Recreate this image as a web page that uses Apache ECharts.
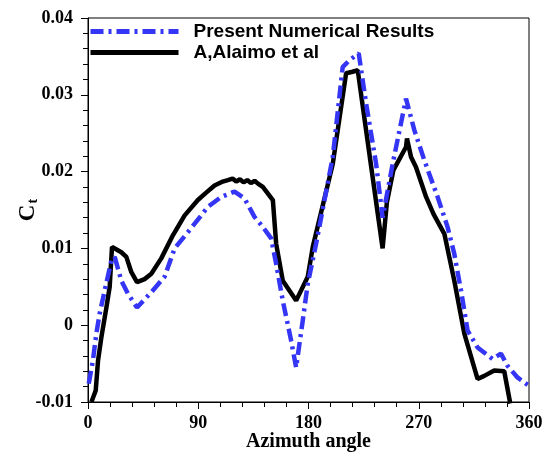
<!DOCTYPE html>
<html>
<head>
<meta charset="utf-8">
<script src="https://cdn.jsdelivr.net/npm/echarts@6/dist/echarts.min.js"></script>
<style>
  html, body { margin: 0; padding: 0; background: #fff; }
  #chart { width: 555px; height: 453px; }
</style>
</head>
<body>
<div id="chart"></div>
<script>
// Present numerical results (blue dash-dot)
const presentAngle = [0.6, 4, 6.8, 9.5, 13.6, 19.1, 21.8, 27.2, 32.6, 40, 51.7, 62.5, 70.7, 81.5, 91, 97.8, 108.8, 119.6, 127.8, 135.9, 142.7, 149.5, 153.6, 159, 165.8, 169.9, 175.3, 179.4, 186.2, 199.8, 207.9, 213.4, 221, 227, 235.2, 240.5, 248.7, 259.6, 266.4, 274.5, 285.4, 293.5, 299, 304.5, 309.9, 318, 330.2, 337.1, 342.5, 350.6, 360];
const presentCt = [-0.0076, -0.0046, -0.0011, 0.0015, 0.0045, 0.0084, 0.0089, 0.0058, 0.0041, 0.0023, 0.0043, 0.0063, 0.0100, 0.0121, 0.0140, 0.0154, 0.0167, 0.0174, 0.0165, 0.0141, 0.0128, 0.0113, 0.0080, 0.0032, -0.0020, -0.0055, 0.0006, 0.0054, 0.0106, 0.0219, 0.0336, 0.0345, 0.0354, 0.0289, 0.0210, 0.0140, 0.0210, 0.0295, 0.0254, 0.0215, 0.0167, 0.0128, 0.0093, 0.0045, -0.0007, -0.0029, -0.0044, -0.0037, -0.0053, -0.0068, -0.0079];

// A, Alaimo et al (black solid)
const alaimoAngle = [2.8, 6.3, 8.2, 10.9, 15, 17.7, 19.6, 21.2, 24, 27.2, 31.3, 35.4, 40, 46.2, 51.7, 59.8, 69.3, 78.9, 89.7, 96, 103.3, 110, 114.2, 118, 121, 124, 127, 130, 133, 136, 139, 142.7, 150.9, 153.6, 159, 169.9, 179.4, 183.5, 199.8, 210.7, 216, 220.2, 227, 240.5, 244, 249.3, 259.6, 260.4, 263.7, 267.7, 276, 282, 290.9, 299, 307.2, 318, 323.5, 331.6, 339.8, 341.2, 344.7];
const alaimoCt = [-0.0100, -0.0085, -0.0046, -0.0016, 0.0023, 0.0050, 0.0102, 0.0104, 0.0098, 0.0095, 0.0089, 0.0069, 0.0056, 0.0060, 0.0067, 0.0087, 0.0117, 0.0143, 0.0163, 0.0172, 0.0182, 0.0187, 0.0189, 0.0191, 0.0187, 0.0190, 0.0186, 0.0189, 0.0185, 0.0188, 0.0184, 0.0180, 0.0163, 0.0106, 0.0058, 0.0032, 0.0063, 0.0102, 0.0210, 0.0328, 0.0330, 0.0332, 0.0254, 0.0100, 0.0160, 0.0202, 0.0232, 0.0243, 0.0219, 0.0206, 0.0167, 0.0145, 0.0119, 0.0058, -0.0011, -0.0070, -0.0066, -0.0059, -0.0060, -0.0072, -0.0102];

const xTicks = [0, 90, 180, 270, 360];
const yTickLabels = { '-0.01': '-0.01', '0': '0', '0.01': '0.01', '0.02': '0.02', '0.03': '0.03', '0.04': '0.04' };

const zip = (a, b) => a.map((v, i) => [v, b[i]]);

const chart = echarts.init(document.getElementById('chart'));

const tickFont = { fontFamily: 'Liberation Serif', fontWeight: 'bold', fontSize: 18, color: '#000' };

chart.setOption({
  animation: false,
  grid: {
    left: 88, right: 26, top: 18, bottom: 51,
    containLabel: false, outerBoundsMode: 'none',
    show: true, borderColor: '#000', borderWidth: 1
  },
  legend: {
    orient: 'vertical',
    left: 88, top: 22, padding: 0,
    itemWidth: 88, itemHeight: 20, itemGap: 2,
    itemStyle: { opacity: 0 },
    lineStyle: { width: 5 },
    textStyle: {
      fontFamily: 'Liberation Sans', fontWeight: 'bold', fontSize: 19,
      color: '#000', padding: [0, 0, 0, 10]
    },
    data: ['Present Numerical Results', 'A,Alaimo et al']
  },
  xAxis: {
    type: 'value', min: 0, max: 360, interval: 90,
    name: 'Azimuth angle', nameLocation: 'middle', nameGap: 30, nameMoveOverlap: false,
    nameTextStyle: { fontFamily: 'Liberation Serif', fontWeight: 'bold', fontSize: 20, color: '#000' },
    axisLine: { onZero: false, lineStyle: { color: '#000', width: 1 } },
    axisTick: { inside: false, length: 7, lineStyle: { color: '#000' } },
    minorTick: { show: true, splitNumber: 5, length: 5, lineStyle: { color: '#000' } },
    axisLabel: Object.assign({ margin: 12, formatter: v => xTicks.includes(v) ? String(v) : '' }, tickFont),
    splitLine: { show: false }
  },
  yAxis: {
    type: 'value', min: -0.01, max: 0.04, interval: 0.01,
    name: '{c|C}{t|t}', nameLocation: 'middle', nameGap: 48, nameRotate: 90, nameMoveOverlap: false,
    nameTextStyle: {
      rich: {
        c: { fontFamily: 'Liberation Serif', fontWeight: 'bold', fontSize: 23, color: '#000' },
        t: { fontFamily: 'Liberation Serif', fontWeight: 'bold', fontSize: 14, color: '#000', verticalAlign: 'bottom', padding: [8, 0, 0, 1] }
      }
    },
    axisLine: { show: true, onZero: false, lineStyle: { color: '#000', width: 1 } },
    axisTick: { show: true, inside: false, length: 7, lineStyle: { color: '#000' } },
    minorTick: { show: true, splitNumber: 5, length: 5, lineStyle: { color: '#000' } },
    axisLabel: Object.assign({
      margin: 15,
      formatter: v => yTickLabels[String(+v.toFixed(3))] || ''
    }, tickFont),
    splitLine: { show: false }
  },
  series: [
    {
      name: 'Present Numerical Results',
      type: 'line',
      data: zip(presentAngle, presentCt),
      showSymbol: false, symbol: 'none',
      lineStyle: { color: '#3535f5', width: 4.5, type: [13, 5, 3, 5] },
      itemStyle: { color: '#3535f5' },
      z: 3
    },
    {
      name: 'A,Alaimo et al',
      type: 'line',
      data: zip(alaimoAngle, alaimoCt),
      showSymbol: false, symbol: 'none',
      lineStyle: { color: '#000', width: 4.5 },
      itemStyle: { color: '#000' },
      z: 2
    }
  ]
});
</script>
</body>
</html>
